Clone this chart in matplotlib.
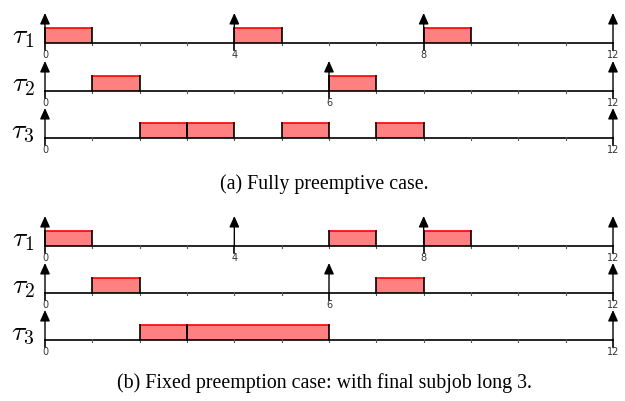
import matplotlib.pyplot as plt

plt.rcParams['mathtext.fontset'] = 'cm'

# time axis
horizon = 12
task_names = [r'$\tau_1$', r'$\tau_2$', r'$\tau_3$']
periods = [4, 6, 12]

# execution segments (start, end) per task, for each case
fully_preemptive = [
    [(0, 1), (4, 5), (8, 9)],
    [(1, 2), (6, 7)],
    [(2, 3), (3, 4), (5, 6), (7, 8)],
]
fixed_preemption = [
    [(0, 1), (6, 7), (8, 9)],
    [(1, 2), (7, 8)],
    [(2, 3), (3, 6)],
]
captions = ['(a) Fully preemptive case.',
            '(b) Fixed preemption case: with final subjob long 3.']

# layout (y in pixels from top)
row_base = [[43, 91, 138], [246, 293, 340]]
caption_y = [184, 383]
bar_h = 15
arrow_h = 30

fig = plt.figure(figsize=(6.25, 4.01), dpi=100)
ax = fig.add_axes([0, 0, 1, 1])
px = (613 - 45) / horizon
ax.set_xlim(-45 / px, horizon + (625 - 613) / px)
ax.set_ylim(401, 0)
ax.axis('off')

fill_col = '#ff8080'

for case, bases in zip([fully_preemptive, fixed_preemption], row_base):
    for i, (segs, base) in enumerate(zip(case, bases)):
        T = periods[i]
        releases = list(range(0, horizon + 1, T))
        # baseline
        ax.plot([0, horizon], [base, base], color='k', lw=1.2, zorder=3)
        # ticks
        for t in range(horizon + 1):
            if t in releases:
                ax.plot([t, t], [base, base + 7], color='k', lw=1.2, zorder=3)
                ax.text(t, base + 12, str(t), ha='center', va='center',
                        fontsize=7, color='#333333', family='DejaVu Sans')
            else:
                ax.plot([t, t], [base - 1, base + 2], color='#555555', lw=0.8, zorder=3)
        # execution bars
        for s, e in segs:
            ax.fill_between([s, e], base, base - bar_h, color=fill_col, lw=0, zorder=2)
            ax.plot([s, e], [base - bar_h, base - bar_h], color='red', lw=1.2, zorder=3)
            ax.plot([s, s], [base, base - bar_h], color='k', lw=1.2, zorder=3)
            ax.plot([e, e], [base, base - bar_h], color='k', lw=1.2, zorder=3)
        # release arrows
        for r in releases:
            ax.annotate('', xy=(r, base - arrow_h), xytext=(r, base),
                        arrowprops=dict(arrowstyle='-|>,head_length=0.6,head_width=0.27',
                                        color='k', lw=1.0,
                                        mutation_scale=11, shrinkA=0, shrinkB=0),
                        zorder=4)
        ax.text(-22 / px, base - 7, task_names[i], ha='center', va='center',
                fontsize=20)

for cap, cy in zip(captions, caption_y):
    ax.text(horizon / 2 - 0.1, cy, cap, ha='center', va='center',
            fontsize=14.3, family='Liberation Serif')

fig.savefig('out.png', dpi=100)
